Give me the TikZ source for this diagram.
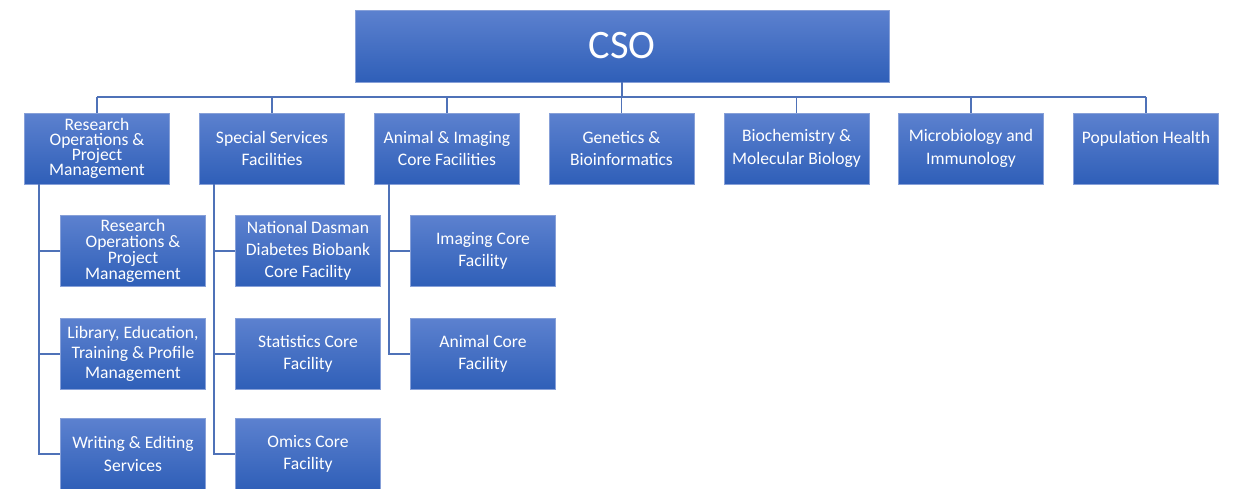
\documentclass[tikz,border=0pt]{standalone}
\usepackage{fontspec}
\setmainfont{Carlito}
\usepackage{xcolor}
\usepackage{tikz}

\definecolor{boxtop}{RGB}{92,129,207}
\definecolor{boxbot}{RGB}{47,95,184}
\definecolor{boxrand}{RGB}{135,160,216}
\definecolor{linie}{RGB}{79,114,184}
\setlength{\lineskiplimit}{-10pt}

\tikzset{
  einheit/.style={rectangle, draw=boxrand, line width=0.4pt, top color=boxtop, bottom color=boxbot,
    text=white, align=center, inner sep=1pt, minimum width=2.9cm, minimum height=1.42cm,
    font=\fontsize{10}{12.7}\selectfont},
  eng/.style={font=\fontsize{10}{#1}\selectfont},
  verbindung/.style={draw=linie, line width=0.8pt},
}

\begin{document}
\begin{tikzpicture}[x=0.02cm, y=-0.02cm]
				\useasboundingbox (0,0) rectangle (1237,489);
				% Leitung
				\node[einheit, minimum width=10.68cm, minimum height=1.44cm, font=\fontsize{23}{27}\selectfont] (cso) at (622,46) {CSO};
				% Abteilungen
				\node[einheit, eng=8.5] (rop) at (97,148.5) {Research\\Operations \&\\Project\\Management};
				\node[einheit] (ssf) at (272,148.5) {Special Services\\Facilities};
				\node[einheit] (aic) at (447,148.5) {Animal \& Imaging\\Core Facilities};
				\node[einheit] (gen) at (621.5,148.5) {Genetics \&\\Bioinformatics};
				\node[einheit] (bmb) at (796.5,148.5) {Biochemistry \&\\Molecular Biology};
				\node[einheit] (mic) at (971,148.5) {Microbiology and\\Immunology};
				\node[einheit] (poh) at (1146,148.5) {Population Health\\\phantom{Health}};
				% Unterbereiche Research Operations
				\node[einheit, eng=9] (rop1) at (133,251) {Research\\Operations \&\\Project\\Management};
				\node[einheit, eng=11.3] (let) at (133,354) {Library, Education,\\Training \& Profile\\Management};
				\node[einheit] (wes) at (133,454) {Writing \& Editing\\Services};
				% Unterbereiche Special Services
				\node[einheit] (ndb) at (308,251) {National Dasman\\Diabetes Biobank\\Core Facility};
				\node[einheit] (stc) at (308,354) {Statistics Core\\Facility};
				\node[einheit] (omc) at (308,454) {Omics Core\\Facility};
				% Unterbereiche Animal & Imaging
				\node[einheit] (imc) at (483,251) {Imaging Core\\Facility};
				\node[einheit] (anc) at (483,354) {Animal Core\\Facility};
				% Linien oben
				\coordinate (bus) at (622,97);
				\draw[verbindung] (cso) -- (bus);
				\draw[verbindung] (rop.north |- bus) -- (poh.north |- bus);
				\draw[verbindung] (rop.north) -- (rop.north |- bus);
				\draw[verbindung] (ssf.north) -- (ssf.north |- bus);
				\draw[verbindung] (aic.north) -- (aic.north |- bus);
				\draw[verbindung] (gen.north) -- (gen.north |- bus);
				\draw[verbindung] (bmb.north) -- (bmb.north |- bus);
				\draw[verbindung] (mic.north) -- (mic.north |- bus);
				\draw[verbindung] (poh.north) -- (poh.north |- bus);
				% Linien unten
				\draw[verbindung] ([xshift=0.3cm]rop.south west) |- (rop1.west);
				\draw[verbindung] ([xshift=0.3cm]rop.south west) |- (let.west);
				\draw[verbindung] ([xshift=0.3cm]rop.south west) |- (wes.west);
				\draw[verbindung] ([xshift=0.3cm]ssf.south west) |- (ndb.west);
				\draw[verbindung] ([xshift=0.3cm]ssf.south west) |- (stc.west);
				\draw[verbindung] ([xshift=0.3cm]ssf.south west) |- (omc.west);
				\draw[verbindung] ([xshift=0.3cm]aic.south west) |- (imc.west);
				\draw[verbindung] ([xshift=0.3cm]aic.south west) |- (anc.west);
			\end{tikzpicture}
\end{document}
